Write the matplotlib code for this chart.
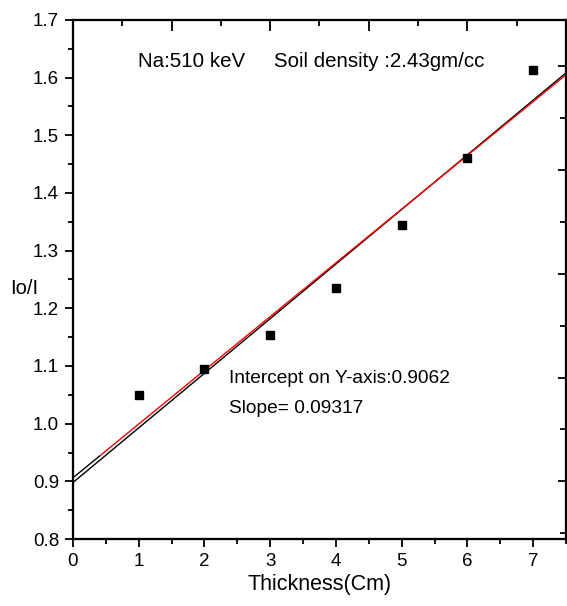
import numpy as np
import matplotlib
matplotlib.use('Agg')
from matplotlib import pyplot as plt
from matplotlib.ticker import MultipleLocator, NullFormatter

plt.rcParams['font.family'] = ['Liberation Sans Narrow', 'Liberation Sans', 'DejaVu Sans']

# measured points
thickness = [1, 2, 3, 4, 5, 6, 7]
io_i = [1.050, 1.095, 1.154, 1.235, 1.344, 1.460, 1.613]

# linear fit shown in red (from x=0.4), black start segment
fit_a = 0.9062
fit_b = 0.09317
fit_x0 = 0.4
# second black straight line
line_a = 0.898
line_b = 0.0947

fig = plt.figure(figsize=(5.67, 6.06), dpi=100)
ax = fig.add_axes([73/567, 1-539/606, 493/567, 519/606])

x_fit = np.array([fit_x0, 7.5])
ax.plot(x_fit, fit_a + fit_b*x_fit, color='red', lw=1.0, zorder=3)
x_start = np.array([0, fit_x0])
ax.plot(x_start, fit_a + fit_b*x_start, color='black', lw=1.0, zorder=3)
x_line = np.array([0, 7.5])
ax.plot(x_line, line_a + line_b*x_line, color='black', lw=1.0, zorder=2)

ax.plot(thickness, io_i, 's', color='black', markersize=5.5, zorder=4)

ax.set_xlim(0, 7.5)
ax.set_ylim(0.8, 1.7)
ax.xaxis.set_major_locator(MultipleLocator(1))
ax.xaxis.set_minor_locator(MultipleLocator(0.5))
ax.yaxis.set_major_locator(MultipleLocator(0.1))
ax.yaxis.set_minor_locator(MultipleLocator(0.05))
ax.tick_params(which='both', direction='out', width=1.3, labelsize=13.5, top=False, right=False)
ax.tick_params(which='major', length=6, pad=4)
ax.tick_params(which='minor', length=3.5)
for s in ax.spines.values():
    s.set_linewidth(1.5)

ax.set_xlabel('Thickness(Cm)', fontsize=15.5, labelpad=3)
ax.set_ylabel('Io/I', fontsize=14.5, rotation=0)
ax.yaxis.set_label_coords(-0.098, 0.465)

# Origin style top/right axes with their own tick spacing
top = ax.twiny()
top.set_xlim(0, 7.5)
top.xaxis.set_major_locator(MultipleLocator(1.5))
top.xaxis.set_minor_locator(MultipleLocator(0.75))
top.xaxis.set_major_formatter(NullFormatter())
top.tick_params(which='both', direction='in', width=1.3)
top.tick_params(which='major', length=8)
top.tick_params(which='minor', length=4)

right = ax.twinx()
right.set_ylim(0.8, 1.7)
right.yaxis.set_major_locator(MultipleLocator(0.18))
right.yaxis.set_minor_locator(MultipleLocator(0.09))
right.yaxis.set_major_formatter(NullFormatter())
right.tick_params(which='both', direction='in', width=1.3)
right.tick_params(which='major', length=6)
right.tick_params(which='minor', length=4)
for a in (top, right):
    for s in a.spines.values():
        s.set_linewidth(1.5)

ax.text(0.99, 1.618, 'Na:510 keV     Soil density :2.43gm/cc', fontsize=14.8)
ax.text(2.37, 1.070, 'Intercept on Y-axis:0.9062', fontsize=13.8)
ax.text(2.37, 1.018, 'Slope= 0.09317', fontsize=13.8)

plt.savefig('out.png', dpi=100)
